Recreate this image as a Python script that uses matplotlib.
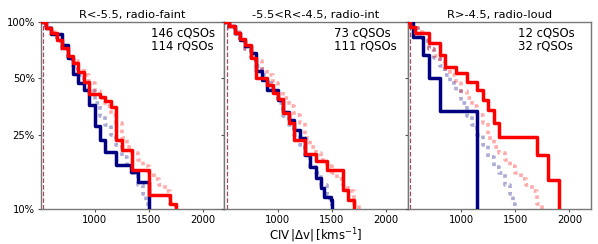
import numpy as np
import matplotlib
matplotlib.use("Agg")
import matplotlib.pyplot as plt
from matplotlib.ticker import FixedLocator, FixedFormatter, NullLocator

# survival curves: fraction of objects with |dv| above each threshold (step, post)
titles = ["R<-5.5, radio-faint", "-5.5<R<-4.5, radio-int", "R>-4.5, radio-loud"]
n_c = [146, 73, 12]
n_r = [114, 111, 32]

b1_v = [500, 550, 600, 700, 750, 800, 850, 900, 950, 1000, 1050, 1100, 1200, 1335, 1400, 1500]
b1_f = [1.0, 0.93, 0.866, 0.756, 0.64, 0.53, 0.472, 0.435, 0.361, 0.278, 0.234, 0.202, 0.172, 0.158, 0.14, 0.0]
r1_v = [500, 550, 600, 650, 700, 750, 800, 850, 900, 950, 1050, 1100, 1150, 1200, 1250, 1350, 1500, 1700, 1750]
r1_f = [1.0, 0.93, 0.87, 0.80, 0.73, 0.66, 0.60, 0.54, 0.48, 0.41, 0.395, 0.38, 0.352, 0.235, 0.207, 0.162, 0.119, 0.107, 0.0]

b2_v = [500, 550, 600, 650, 700, 750, 800, 850, 900, 1000, 1050, 1100, 1150, 1200, 1250, 1300, 1350, 1400, 1430, 1490, 1500]
b2_f = [1.0, 0.95, 0.87, 0.80, 0.74, 0.68, 0.55, 0.49, 0.433, 0.383, 0.33, 0.30, 0.265, 0.241, 0.194, 0.168, 0.146, 0.129, 0.116, 0.112, 0.0]
r2_v = [500, 550, 600, 650, 700, 750, 800, 900, 950, 1000, 1050, 1100, 1150, 1250, 1350, 1450, 1600, 1650, 1700]
r2_f = [1.0, 0.95, 0.87, 0.81, 0.75, 0.64, 0.50, 0.462, 0.417, 0.386, 0.325, 0.287, 0.234, 0.197, 0.181, 0.162, 0.126, 0.112, 0.0]

b3_v = [500, 550, 650, 700, 800, 1150]
b3_f = [1.0, 0.833, 0.667, 0.5, 0.333, 0.0]
r3_v = [500, 530, 575, 700, 800, 850, 950, 1050, 1150, 1200, 1250, 1300, 1350, 1700, 1800, 1900]
r3_f = [1.0, 0.94, 0.875, 0.77, 0.666, 0.576, 0.531, 0.48, 0.433, 0.383, 0.338, 0.287, 0.243, 0.194, 0.143, 0.0]

# full samples (faded, same in every panel)
fb_v = [500, 550, 600, 650, 700, 750, 800, 850, 900, 950, 1000, 1050, 1100, 1150, 1200, 1250, 1300, 1350, 1400, 1450, 1480, 1500]
fb_f = [1.0, 0.93, 0.86, 0.79, 0.72, 0.64, 0.58, 0.52, 0.47, 0.43, 0.37, 0.315, 0.28, 0.25, 0.22, 0.19, 0.168, 0.155, 0.135, 0.12, 0.107, 0.0]
fr_v = [500, 550, 600, 650, 700, 750, 800, 850, 900, 950, 1000, 1050, 1100, 1150, 1200, 1250, 1300, 1350, 1400, 1450, 1500, 1550, 1600, 1650, 1700, 1750]
fr_f = [1.0, 0.95, 0.88, 0.80, 0.72, 0.66, 0.62, 0.56, 0.52, 0.47, 0.43, 0.39, 0.355, 0.32, 0.29, 0.24, 0.215, 0.20, 0.183, 0.17, 0.155, 0.145, 0.135, 0.125, 0.107, 0.0]

blue_sets = [(b1_v, b1_f), (b2_v, b2_f), (b3_v, b3_f)]
red_sets = [(r1_v, r1_f), (r2_v, r2_f), (r3_v, r3_f)]

ytick_vals = [0.1, 0.25, 0.5, 1.0]
ytick_labels = ["10%", "25%", "50%", "100%"]
xtick_vals = [1000, 1500, 2000]

fig = plt.figure(figsize=(5.98, 2.44), dpi=100)
left, width = 0.0686, 0.3066
bottom, height = 0.1434, 0.7664

def clip(f):
    return np.clip(np.array(f, dtype=float), 1e-3, None)

for i in range(3):
    ax = fig.add_axes([left + i * width, bottom, width, height])
    ax.set_yscale("log")
    ax.step(fb_v, clip(fb_f), where="post", color="#000080", alpha=0.33, lw=2.6, ls=(0, (1, 1.1)), zorder=1)
    ax.step(fr_v, clip(fr_f), where="post", color="#ff0000", alpha=0.33, lw=2.6, ls=(0, (1, 1.1)), zorder=1)
    bv, bf = blue_sets[i]
    rv, rf = red_sets[i]
    ax.step(bv, clip(bf), where="post", color="#000080", lw=2.5, zorder=3)
    ax.step(rv, clip(rf), where="post", color="#ff0000", lw=2.5, zorder=4)
    ax.axvline(525, color="#a05060", lw=0.9, ls="--", zorder=2)

    ax.set_xlim(505, 2200)
    ax.set_ylim(0.1, 1.0)
    ax.yaxis.set_major_locator(FixedLocator(ytick_vals))
    ax.yaxis.set_minor_locator(NullLocator())
    if i == 0:
        ax.yaxis.set_major_formatter(FixedFormatter(ytick_labels))
    else:
        ax.set_yticklabels([])
    ax.set_xticks(xtick_vals)
    ax.set_xticklabels([str(v) for v in xtick_vals])
    ax.tick_params(labelsize=7.2, length=2.5, width=0.8, color="#555555", pad=2)
    for s in ax.spines.values():
        s.set_color("#777777")
        s.set_linewidth(1.0)
    ax.set_title(titles[i], fontsize=8.2, pad=3)
    ax.text(0.6, 0.975, f"{n_c[i]} cQSOs\n{n_r[i]} rQSOs", transform=ax.transAxes,
            ha="left", va="top", fontsize=8.4, linespacing=1.0)
    if i == 1:
        ax.set_xlabel(r"CIV$\,|\Delta$v$|\,$[kms$^{-1}$]", fontsize=8.5, labelpad=1)

fig.savefig("out.png", dpi=100)
